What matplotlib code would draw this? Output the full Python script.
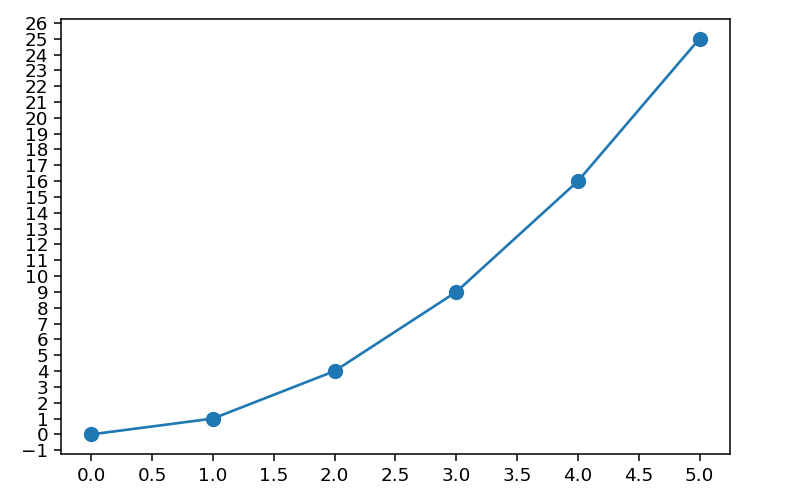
import matplotlib
matplotlib.use("Agg")
import matplotlib.pyplot as plt
import numpy as np

# data
x_vals = [0, 1, 2, 3, 4, 5]
y_vals = [0, 1, 4, 9, 16, 25]
x_ticks = [0.0, 0.5, 1.0, 1.5, 2.0, 2.5, 3.0, 3.5, 4.0, 4.5, 5.0]
y_ticks = list(range(-1, 27))

plt.rcParams['font.size'] = 13.2

fig = plt.figure(figsize=(7.9, 4.98), dpi=100)
ax = fig.add_axes([0.077, 0.088, 0.847, 0.874])

ax.plot(x_vals, y_vals, marker='o', color='#1f77b4', linewidth=1.9, markersize=10)
ax.set_xticks(x_ticks)
ax.set_yticks(y_ticks)
ax.tick_params(length=5, width=1.1, pad=4)
for s in ax.spines.values():
    s.set_linewidth(1.1)

fig.savefig('out.png', dpi=100)
